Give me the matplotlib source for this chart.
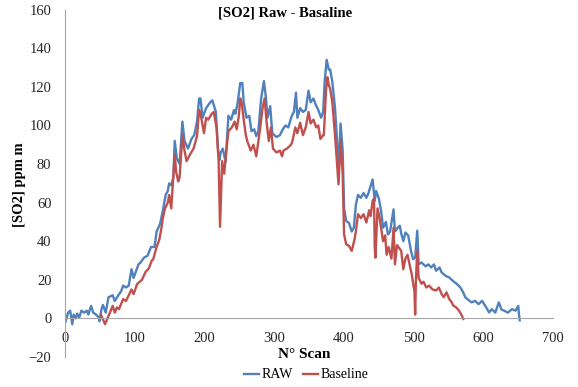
import matplotlib

matplotlib.use("Agg", force=True)
import matplotlib.pyplot as plt

# values (scan number, ppm m)
raw_scan = [0, 4, 7, 10, 12, 15, 17, 20, 23, 27, 31, 33, 37, 40, 44, 48, 49, 52, 54, 58,
            62, 68, 71, 76, 80, 83, 87, 91, 95, 98, 101, 105, 108, 113, 118, 123, 128, 131,
            136, 140, 144, 147, 149, 152, 155, 157, 160, 164, 168, 171, 176, 181, 185, 189,
            192, 194, 197, 202, 208, 211, 216, 219, 221, 223, 226, 230, 234, 238, 242, 244,
            247, 251, 254, 256, 260, 264, 267, 271, 274, 277, 281, 285, 288, 290, 294, 297,
            303, 308, 312, 316, 320, 325, 328, 331, 333, 337, 341, 345, 349, 352, 356, 359,
            363, 367, 370, 372, 375, 378, 380, 383, 387, 390, 392, 395, 398, 400, 403, 407,
            411, 414, 417, 420, 424, 428, 432, 435, 438, 441, 444, 446, 450, 453, 456, 460,
            463, 466, 471, 473, 477, 480, 482, 485, 488, 492, 496, 499, 502, 505, 507, 511,
            517, 521, 525, 529, 532, 537, 540, 546, 551, 556, 562, 567, 571, 574, 577, 583,
            588, 593, 598, 604, 608, 612, 617, 622, 626, 630, 635, 641, 646, 650, 651, 652]
raw_vals = [-2, 3, 4, -3, 2, 0, 2.5, 0.5, 4, 3, 4, 2, 6.5, 3, 2, 0.5, -1.5, 5, 7, 3,
            11, 12, 9, 12, 14, 17, 16, 17, 25.5, 21, 24, 28, 29, 31.5, 32.5, 37, 37, 45,
            49, 56, 64, 66, 70, 69, 73, 92, 83, 80, 102, 92, 88, 93, 95, 102,
            114, 114, 104, 109, 112, 113, 107, 88, 82, 86, 88, 81, 105, 103, 108, 106,
            111, 122, 122, 112, 104, 105, 97, 98, 94.5, 97, 114, 123, 114, 104, 110, 96,
            94, 95, 98, 100, 99, 105, 107, 117, 104, 109, 107, 108, 118, 112, 114, 111,
            108, 104, 107, 122, 134, 129, 129, 123, 109, 92, 75, 101, 87, 57, 50.5, 49.5,
            45, 47, 59, 64, 62.5, 65, 62.5, 65, 68.5, 72, 61, 66, 62, 56, 47, 50,
            43.5, 45, 56.5, 45, 47, 48, 44, 40, 44.5, 43, 35, 30.7, 31.5, 45.5, 28, 29,
            27, 28, 26.4, 28, 24.7, 26.4, 23.8, 22, 21.2, 19.5, 17.8, 16, 13.4, 10.9, 10, 8.3,
            9.1, 7.4, 9.1, 5.7, 3.1, 4.8, 3, 8.3, 4.5, 4, 3, 4.8, 4, 6.5, 2, -1]

base_scan = [51, 57, 61, 65, 68, 71, 74, 77, 83, 87, 91, 95, 98, 103, 110, 115, 120, 124,
             126, 131, 135, 138, 140, 143, 147, 149, 152, 157, 159, 162, 164, 168, 171, 174,
             179, 184, 189, 192, 194, 199, 202, 205, 210, 213, 217, 220, 222, 225, 228, 231,
             234, 239, 243, 246, 249, 251, 253, 256, 259, 261, 266, 270, 274, 279, 283, 286,
             289, 292, 295, 298, 303, 308, 311, 313, 318, 324, 326, 330, 333, 337, 341, 345,
             349, 352, 356, 360, 363, 366, 370, 371, 374, 376, 378, 380, 383, 387, 390, 392,
             395, 398, 400, 403, 407, 411, 415, 417, 420, 424, 428, 432, 436, 438, 441, 443,
             444, 445, 448, 451, 453, 456, 459, 461, 464, 468, 471, 473, 476, 480, 482, 485,
             488, 491, 494, 497, 499, 501, 502, 503, 505, 507, 511, 514, 518, 522, 527, 532,
             536, 540, 543, 547, 551, 554, 557, 561, 565, 569, 571]
base_vals = [2, -3, 0.5, 4, 6.5, 3, 5.7, 4.8, 10, 9, 12, 15, 12.6, 17.8, 20, 24, 26, 30,
             30.5, 37, 41, 47, 52, 57, 60, 64, 57, 85, 76, 71, 73, 95, 87, 81.5,
             85, 88, 94.5, 108, 106, 96, 104, 103, 106, 107, 99, 81.5, 47.5, 81.5, 75, 87,
             97, 99, 102, 98, 105, 114, 112, 103, 95, 92, 87, 90, 84, 97, 109, 114,
             101, 92, 99, 88, 86, 87, 84, 87, 88, 90, 92, 99, 96, 101.4, 95, 99,
             107, 101, 103, 99, 100, 93, 95, 95, 118, 125, 121, 119, 112.6, 95, 80, 69.5,
             92, 75, 43.6, 38.4, 37.6, 35, 41, 45.3, 54, 52, 54, 49.7, 56, 53, 61, 62,
             36.7, 31.5, 57, 52, 47, 40, 43, 33, 37, 31, 47, 28, 38, 36, 35, 25.5,
             31, 33, 28, 23, 18.6, 14, 2, 19, 35, 21, 18, 19, 16, 17, 15, 14.5,
             16, 12.6, 11, 13.5, 10, 8.5, 6.5, 5.7, 4, 1.4, -0.3]

plt.rcParams["font.family"] = ["Liberation Serif", "DejaVu Serif"]

fig = plt.figure(figsize=(5.78, 3.87), dpi=100)
ax = fig.add_axes([0.113, 0.0775, 0.844, 0.8975])

ax.plot(raw_scan, raw_vals, color="#4F81BD", linewidth=1.7, label="RAW")
ax.plot(base_scan, base_vals, color="#C0504D", linewidth=1.7, label="Baseline")

ax.set_xlim(0, 700)
ax.set_ylim(-20, 160)
ax.set_xticks(range(0, 701, 100))
ax.set_yticks(range(-20, 161, 20))

for side in ("top", "right"):
    ax.spines[side].set_visible(False)
ax.spines["bottom"].set_position(("data", 0))
ax.spines["bottom"].set_color("#A6A6A6")
ax.spines["left"].set_color("#A6A6A6")
ax.tick_params(axis="both", length=0, labelsize=10.5, colors="#262626")
ax.tick_params(axis="x", pad=10)
ax.tick_params(axis="y", pad=10)

fig.text(0.494, 0.966, "[SO2] Raw - Basaline", ha="center", va="center",
         fontsize=10.5, fontweight="bold")
fig.text(0.526, 1 - 355 / 387, "N° Scan", ha="center", va="center",
         fontsize=11, fontweight="bold")
fig.text(0.034, 1 - 185 / 387, "[SO2] ppm m", ha="center", va="center",
         rotation=90, fontsize=10.5, fontweight="bold")

fig.legend(loc="center", bbox_to_anchor=(0.53, 1 - 375 / 387), ncol=2, frameon=False,
           fontsize=10, handlelength=1.1, handletextpad=0.2, columnspacing=0.7)

fig.savefig("out.png")
